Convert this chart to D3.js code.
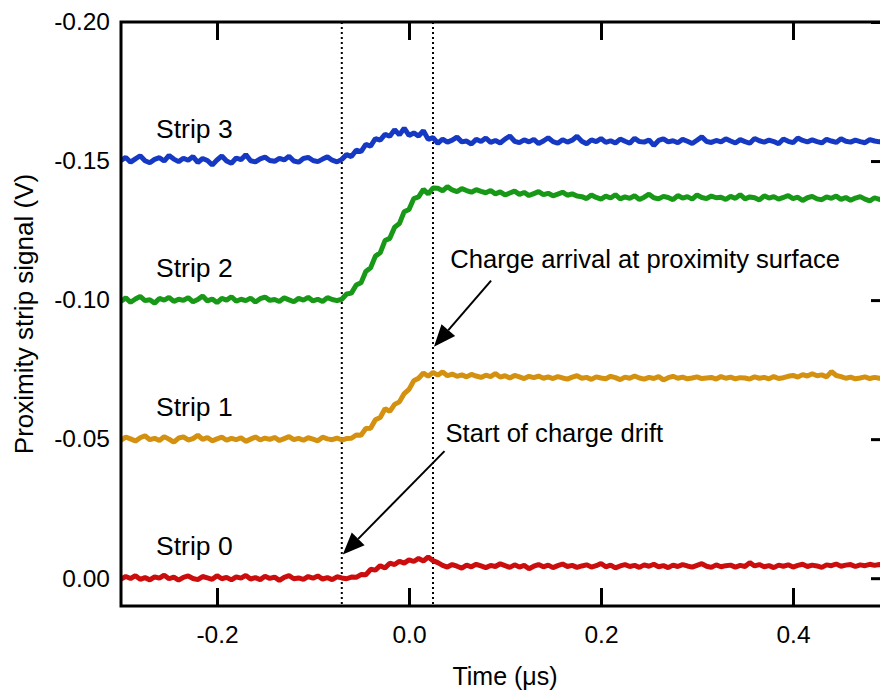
<!DOCTYPE html>
<html>
<head>
<meta charset="utf-8">
<script src="https://cdn.jsdelivr.net/npm/d3@7"></script>
<style>
body { margin: 0; background: #fff; }
svg text { font-family: Arial, "Liberation Sans", sans-serif; fill: #000; }
</style>
</head>
<body>
<div class="chart"></div>
<script>
// sampling of the traces (us)
var t0 = -0.3;
var dt = 0.005;

// trace values in mV, one per sample
var strip3 = [
-150.2, -151.3, -149.6, -150.8, -151.9, -150.1, -149.4, -150.6, -151.2, -150.0,
-152.0, -150.7, -149.8, -151.0, -150.3, -151.6, -149.5, -150.9, -150.2, -148.6,
-150.4, -151.8, -150.0, -149.2, -151.1, -150.5, -152.3, -150.1, -149.7, -150.8,
-151.4, -150.2, -149.9, -151.0, -150.4, -151.7, -150.0, -149.6, -150.9, -151.3,
-150.2, -149.8, -150.7, -151.5, -150.3, -149.7,
-150.6, -152.3, -151.6, -153.9, -153.4, -156.0, -155.4, -158.1, -157.5, -159.6,
-158.9, -161.3, -159.4, -161.8, -159.2, -160.1, -159.0, -160.9, -157.8, -158.4,
-156.4, -157.9, -156.8, -157.5, -158.6, -156.9, -157.2, -156.1, -157.8, -157.0,
-158.3, -156.7, -157.4, -156.5, -157.9, -159.0, -157.1, -156.6, -157.6, -156.9,
-157.8, -156.3, -157.2, -158.4, -157.0, -156.4, -157.7, -156.8, -157.5, -158.9,
-157.1, -156.2, -157.6, -157.0, -158.1, -156.7, -157.3, -156.5, -157.9, -157.1,
-156.4, -158.2, -157.0, -156.8, -157.6, -155.6, -157.4, -158.0, -156.9, -157.3,
-156.6, -157.8, -157.1, -156.3, -157.5, -158.7, -157.0, -156.7, -157.4, -156.9,
-158.0, -157.2, -156.5, -157.7, -157.0, -156.4, -158.1, -157.3, -156.8, -157.5,
-157.0, -156.2, -157.9, -157.1, -156.6, -158.3, -157.4, -156.9, -157.6, -157.0,
-156.5, -157.8, -157.2, -156.7, -158.0, -157.1, -156.8, -157.5, -157.0, -156.6,
-157.7, -157.2, -156.9, -157.4, -157.0
];

var strip2 = [
-99.6, -100.8, -99.2, -100.4, -101.3, -99.8, -100.1, -98.9, -100.6, -100.0,
-101.0, -99.5, -100.3, -99.9, -100.9, -99.4, -100.2, -101.5, -99.7, -100.4,
-99.1, -100.6, -100.0, -101.2, -99.6, -100.3, -99.8, -100.7, -99.3, -100.5,
-101.1, -99.9, -100.2, -99.5, -100.8, -100.1, -99.4, -100.6, -100.0, -101.0,
-99.7, -100.3, -99.5, -100.9, -100.2, -99.8,
-100.3, -102.2, -102.5, -105.4, -106.2, -110.3, -111.6, -115.8, -117.0, -121.4,
-122.2, -126.2, -127.5, -131.8, -132.6, -136.5, -137.1, -139.8, -138.2, -140.3,
-140.2, -139.3, -140.8, -139.6, -139.0, -140.1, -139.4, -138.8, -139.7, -139.1,
-138.6, -139.4, -138.2, -138.9, -137.8, -138.5, -139.2, -138.0, -138.7, -137.6,
-138.3, -139.0, -137.9, -138.4, -137.5, -138.1, -138.8, -137.7, -138.2, -137.4,
-137.2, -136.5, -137.8, -136.9, -136.3, -137.4, -136.7, -137.9, -136.4, -137.1,
-136.6, -137.5, -136.2, -137.0, -138.1, -136.8, -136.4, -137.3, -136.9, -136.1,
-137.6, -136.7, -137.2, -136.3, -137.8, -136.9, -136.5, -137.4, -136.8, -137.0,
-136.2, -137.3, -136.6, -137.9, -136.4, -137.1, -136.8, -136.0, -137.5, -136.7,
-137.2, -136.3, -136.9, -137.6, -136.5, -137.0, -135.8, -136.8, -137.3, -136.4,
-136.1, -137.1, -136.6, -137.4, -136.2, -136.9, -135.9, -136.7, -137.2, -136.3,
-135.7, -136.8, -136.2, -136.5, -136.0
];

var strip1 = [
-49.6, -50.7, -50.1, -49.3, -50.5, -51.2, -49.8, -50.3, -49.5, -50.9,
-50.0, -48.9, -50.4, -50.8, -49.7, -50.2, -51.4, -49.9, -50.6, -49.4,
-50.1, -50.7, -49.6, -50.3, -49.8, -50.5, -49.2, -50.0, -50.8, -49.7,
-50.4, -49.9, -50.6, -49.5, -50.2, -50.9, -49.8, -50.3, -49.6, -50.5,
-50.0, -49.4, -50.7, -50.1, -49.8, -50.4, -49.7, -50.2,
-50.3, -51.5, -51.4, -53.8, -53.9, -57.0, -57.8, -60.9, -60.0, -62.5,
-63.4, -66.4, -67.9, -71.0, -71.9, -73.8, -72.6, -74.0,
-73.0, -74.2, -72.8, -73.4, -72.6, -73.1, -72.4, -73.3, -72.7, -72.2,
-73.0, -72.5, -73.6, -72.3, -72.8, -72.0, -72.9, -72.4, -71.8, -72.6,
-72.1, -72.7, -71.9, -72.4,
-71.8, -72.5, -72.0, -71.6, -72.3, -72.8, -71.9, -72.2, -71.5, -72.4,
-72.0, -71.7, -72.6, -72.1, -71.4, -72.3, -71.9, -72.7, -72.0, -71.6,
-72.2, -71.8, -72.5, -71.3, -72.1, -72.6, -71.9, -72.3, -71.7, -72.0,
-72.4, -71.8, -72.0, -72.2, -71.6, -72.5, -71.9, -72.3, -71.7, -72.1,
-72.0, -71.6, -72.4, -71.9, -72.2, -71.7, -72.5, -71.8, -72.1, -72.6,
-72.9, -72.3, -73.2, -72.7, -73.5, -72.8, -73.1, -72.4, -74.3, -72.9,
-72.5, -71.9, -72.3, -71.7, -72.0, -72.4, -71.8, -72.2, -71.9, -72.1,
-72.0
];

var strip0 = [
0.3, -0.6, 0.1, -0.9, 0.4, -0.2, 0.6, -0.5, 0.0, -1.1,
0.2, -0.4, 0.7, -0.3, -0.8, 0.1, 0.5, -0.6, -0.1, 0.4,
-0.9, 0.2, -0.3, 0.6, -0.5, 0.0, -1.0, 0.3, -0.2, 0.5,
-0.7, 0.1, -0.4, 0.8, -0.3, -0.9, 0.2, -0.1, 0.4, -0.6,
0.0, -0.8, 0.3, -0.2, 0.5, -0.5, -0.1, 0.2, -0.4,
-0.3, -1.3, -1.2, -3.2, -2.9, -4.5, -3.7, -5.4, -4.9, -6.1,
-5.4, -6.6, -6.0, -7.1, -6.2, -7.6, -6.3, -5.6, -4.6,
-4.0, -4.9, -4.3, -3.6, -4.7, -4.1, -5.0, -4.4, -3.8, -4.6,
-4.2, -5.2, -4.5, -3.9, -4.8, -4.0, -4.6, -3.4, -4.3, -4.9,
-4.1, -4.7, -3.8, -4.5, -5.1, -4.2, -4.6, -3.9, -4.4, -4.8,
-4.0, -4.5, -5.3, -4.1, -4.7, -3.7, -4.4, -4.9, -4.2, -4.6,
-3.9, -4.8, -4.3, -5.0, -4.1, -4.5, -3.8, -4.7, -4.2, -4.9,
-4.4, -4.0, -4.6, -5.2, -4.3, -3.9, -4.8, -4.1, -4.5, -4.7,
-4.0, -4.6, -4.2, -5.6, -4.4, -4.9, -4.1, -4.5, -3.8, -4.7,
-4.3, -4.8, -4.0, -4.6, -5.0, -4.2, -4.7, -4.4, -3.9, -4.8,
-4.5, -5.1, -4.3, -4.7, -4.9, -4.2, -4.8, -4.5, -5.0, -4.6,
-4.9, -4.7, -5.0
];

var stripNames = ["Strip 0", "Strip 1", "Strip 2", "Strip 3"];
var stripBase = [0.00, -0.05, -0.10, -0.15];
var stripColors = ["#cc0d0d", "#d4900f", "#179817", "#1639c4"];

var xTicks = [-0.2, 0.0, 0.2, 0.4];
var xTickLabels = ["-0.2", "0.0", "0.2", "0.4"];
var yTicks = [-0.20, -0.15, -0.10, -0.05, 0.00];
var yTickLabels = ["-0.20", "-0.15", "-0.10", "-0.05", "0.00"];

// dotted markers (us)
var markerTimes = [-0.07, 0.025];

// dimensions
var svgWidth = 880;
var svgHeight = 692;
var margin = { top: 22, left: 121 };
var chartWidth = 768;
var chartHeight = 584;

var svg = d3.select(".chart")
    .append("svg")
    .attr("width", svgWidth)
    .attr("height", svgHeight);

var chart = svg.append("g")
    .attr("transform", "translate(" + margin.left + "," + margin.top + ")");

var x = d3.scaleLinear().domain([-0.3, 0.5]).range([0, chartWidth]);
var y = d3.scaleLinear().domain([0.01, -0.20]).range([chartHeight, 0]);

chart.append("clipPath").attr("id", "plotclip")
    .append("rect").attr("width", chartWidth).attr("height", chartHeight);

// dotted vertical lines
chart.selectAll(".marker")
    .data(markerTimes)
    .enter().append("line")
    .attr("class", "marker")
    .attr("x1", function(d) { return x(d); })
    .attr("x2", function(d) { return x(d); })
    .attr("y1", 0)
    .attr("y2", chartHeight)
    .attr("stroke", "#000")
    .attr("stroke-width", 2)
    .attr("stroke-dasharray", "2,3");

// traces
var traces = [strip0, strip1, strip2, strip3];
var line = d3.line()
    .x(function(d, i) { return x(t0 + i * dt); })
    .y(function(d) { return y(d / 1000); });

chart.append("g").attr("clip-path", "url(#plotclip)")
    .selectAll("path")
    .data(traces)
    .enter().append("path")
    .attr("d", line)
    .attr("fill", "none")
    .attr("stroke", function(d, i) { return stripColors[i]; })
    .attr("stroke-width", 5)
    .attr("stroke-linejoin", "bevel");

// strip labels
chart.selectAll(".striplabel")
    .data(stripNames)
    .enter().append("text")
    .attr("class", "striplabel")
    .attr("x", x(-0.2635))
    .attr("y", function(d, i) { return y(stripBase[i]) - 23; })
    .style("font-size", "26.5px")
    .text(function(d) { return d; });

// annotations with arrows
var notes = [
    { text: "Charge arrival at proximity surface", tx: 0.043, ty: -0.1115,
      from: [0.0855, -0.107], to: [0.026, -0.0832] },
    { text: "Start of charge drift", tx: 0.038, ty: -0.049,
      from: [0.037, -0.0457], to: [-0.069, -0.0085] }
];

notes.forEach(function(n) {
    chart.append("text")
        .attr("x", x(n.tx))
        .attr("y", y(n.ty))
        .style("font-size", "25.6px")
        .text(n.text);

    var x1 = x(n.from[0]), y1 = y(n.from[1]);
    var x2 = x(n.to[0]), y2 = y(n.to[1]);
    var ang = Math.atan2(y2 - y1, x2 - x1);
    var len = 22, half = 9;
    var bx = x2 - len * Math.cos(ang), by = y2 - len * Math.sin(ang);

    chart.append("line")
        .attr("x1", x1).attr("y1", y1)
        .attr("x2", bx).attr("y2", by)
        .attr("stroke", "#000")
        .attr("stroke-width", 2);

    chart.append("path")
        .attr("d", "M" + x2 + "," + y2 +
            "L" + (bx + half * Math.sin(ang)) + "," + (by - half * Math.cos(ang)) +
            "L" + (bx - half * Math.sin(ang)) + "," + (by + half * Math.cos(ang)) + "Z")
        .attr("fill", "#000");
});

// axes
var leftAxis = d3.axisLeft(y)
    .tickValues(yTicks)
    .tickSize(0)
    .tickPadding(11)
    .tickFormat(function(d, i) { return yTickLabels[i]; });

var rightAxis = d3.axisRight(y)
    .tickValues(yTicks)
    .tickSize(-18)
    .tickFormat("");

var bottomAxis = d3.axisBottom(x)
    .tickValues(xTicks)
    .tickSize(-18)
    .tickPadding(20)
    .tickFormat(function(d, i) { return xTickLabels[i]; });

var topAxis = d3.axisTop(x)
    .tickValues(xTicks)
    .tickSize(-18)
    .tickFormat("");

chart.append("g").attr("class", "axis").call(leftAxis);
chart.append("g").attr("class", "axis")
    .attr("transform", "translate(" + chartWidth + ",0)")
    .call(rightAxis);
chart.append("g").attr("class", "axis")
    .attr("transform", "translate(0," + chartHeight + ")")
    .call(bottomAxis);
chart.append("g").attr("class", "axis").call(topAxis);

chart.selectAll(".axis .domain").remove();
chart.selectAll(".axis line").attr("stroke", "#000").attr("stroke-width", 3);
chart.selectAll(".axis text")
    .style("font-size", "24.5px")
    .style("font-family", "Arial, 'Liberation Sans', sans-serif")
    .attr("fill", "#000");

// frame
chart.append("rect")
    .attr("width", chartWidth)
    .attr("height", chartHeight)
    .attr("fill", "none")
    .attr("stroke", "#000")
    .attr("stroke-width", 3);

// axis titles
chart.append("text")
    .attr("text-anchor", "middle")
    .attr("x", chartWidth / 2)
    .attr("y", chartHeight + 79)
    .style("font-size", "25px")
    .text("Time (\u03bcs)");

chart.append("text")
    .attr("text-anchor", "middle")
    .attr("transform", "translate(" + (-88) + "," + (chartHeight / 2) + ") rotate(-90)")
    .style("font-size", "26px")
    .text("Proximity strip signal (V)");
</script>
</body>
</html>
